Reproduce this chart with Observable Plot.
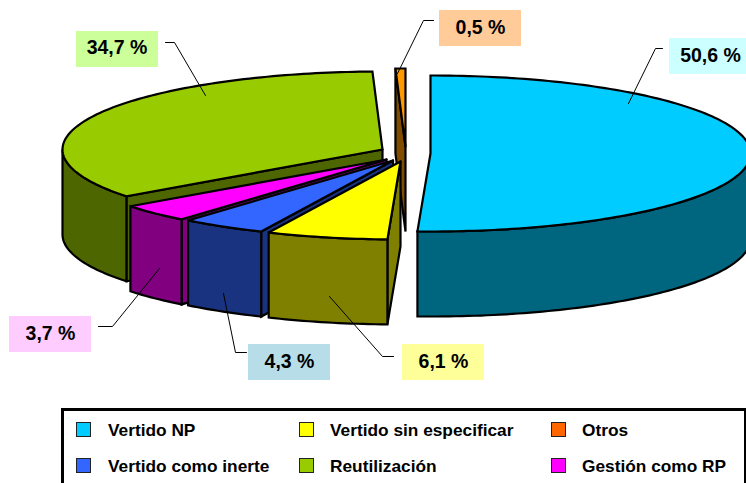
<!DOCTYPE html>
<html>
<head>
<meta charset="utf-8">
<script src="https://cdn.jsdelivr.net/npm/d3@7"></script>
<script src="https://cdn.jsdelivr.net/npm/@observablehq/plot@0.6"></script>
<style>
html,body{margin:0;padding:0;background:#fff;width:746px;height:483px;overflow:hidden;font-family:"Liberation Sans",Arial,sans-serif;}
#chart svg{display:block;}
#legend{position:absolute;left:61px;top:408px;width:680px;height:90px;border:3px solid #000;background:#fff;}
#legend .sw{position:absolute;width:13px;height:13px;border:1.5px solid #222;}
#legend .tx{position:absolute;font-weight:bold;font-size:17.3px;line-height:20px;color:#000;white-space:nowrap;}
</style>
</head>
<body>
<div id="chart"></div>
<div id="legend"></div>
<script>
// Data, clockwise from 12 o'clock
const categories = ["Vertido NP","Vertido sin especificar","Vertido como inerte","Gestión como RP","Reutilización","Otros"];
const values = [50.6,6.1,4.3,3.7,34.7,0.5];
const valueLabels = ["50,6 %","6,1 %","4,3 %","3,7 %","34,7 %","0,5 %"];

// Styles
const topColors = ["#00CCFF","#FFFF00","#3366FF","#FF00FF","#99CC00","#FF9900"];
const wallColors = ["#006680","#808000","#1A3380","#800080","#4D6600","#804D00"];
const swatchColors = ["#00CCFF","#FFFF00","#3366FF","#FF00FF","#99CC00","#FF6600"];
const labelFills = ["#CCFFFF","#FFFF99","#B7DEE8","#FFCCFF","#CCFF99","#FFCC99"];

// Layout of the 3-D drawing
const W = 746, H = 400, RX = 320, RY = 78, DEPTH = 85;
const apexX = [430,400,392.5,386,382,405];
const apexY = [153,161,160,159,149,146];
const paintOrder = [5,4,3,2,1,0];
const boxX = [[669,760],[402,484],[248,330],[9,91],[76,158],[439,521]];
const boxY = [[38,74],[344,380],[344,380],[316,352],[31,67],[10,46]];
const leaderX = [[628,655,662],[329,382,393],[223,235,246],[159,112,98],[205,174,165],[397,423,433]];
const leaderY = [[103,48,48],[296,356,356],[293,352,352],[268,326,326],[95,42,42],[73,20,20]];
const textX = [710,443,289,50,116.5,480];
const textY = [55,361,361,333,47.5,27];

// Slice angles from the values
const total = d3.sum(values);
let acc = 0;
const slices = values.map((v,i)=>{
  const a0 = acc/total*2*Math.PI; acc += v;
  return {i, a0, a1: acc/total*2*Math.PI};
});
const rim = (s,t)=>[apexX[s.i]+RX*Math.sin(t), apexY[s.i]-RY*Math.cos(t)];
const arc = (a,b)=>{
  const n = Math.max(1,Math.ceil((b-a)/0.02)), out=[];
  for(let k=0;k<=n;k++) out.push(a+(b-a)*k/n);
  return out;
};

const shapes = [];
let sid = 0;
function addShape(pts,color){
  const id = sid++;
  [...pts,pts[0]].forEach(p=>shapes.push({id,x:p[0],y:p[1],color}));
}
for(const idx of paintOrder){
  const s = slices[idx], A=[apexX[idx],apexY[idx]];
  // cut faces, drawn only when they face the viewer
  for(const [t,sign] of [[s.a0,-1],[s.a1,1]]){
    if(sign*Math.sin(t) > 1e-6){
      const R = rim(s,t);
      addShape([A,R,[R[0],R[1]+DEPTH],[A[0],A[1]+DEPTH]],wallColors[idx]);
    }
  }
  // outer wall, front half only
  const w0 = Math.max(s.a0,Math.PI/2), w1 = Math.min(s.a1,1.5*Math.PI);
  if(w1>w0){
    const ring = arc(w0,w1).map(t=>rim(s,t));
    addShape([...ring,...ring.slice().reverse().map(p=>[p[0],p[1]+DEPTH])],wallColors[idx]);
  }
  // top face
  addShape([A,...arc(s.a0,s.a1).map(t=>rim(s,t))],topColors[idx]);
}

const idxs = d3.range(values.length);
const leaders = idxs.flatMap(i=>leaderX[i].map((x,k)=>({i,x,y:leaderY[i][k]})));

const plot = Plot.plot({
  width:W,height:H,margin:0,
  x:{domain:[0,W],range:[0,W],axis:null},
  y:{domain:[0,H],range:[0,H],axis:null},
  color:{type:"identity"},
  style:{background:"#fff",overflow:"hidden"},
  marks:[
    Plot.line(shapes,{x:"x",y:"y",z:"id",fill:"color",stroke:"#000",strokeWidth:2.2,strokeLinejoin:"miter",strokeMiterlimit:3,curve:"linear"}),
    Plot.rect(idxs,{x1:i=>boxX[i][0],x2:i=>boxX[i][1],y1:i=>boxY[i][0],y2:i=>boxY[i][1],fill:i=>labelFills[i]}),
    Plot.line(leaders,{x:"x",y:"y",z:"i",stroke:"#000",strokeWidth:1,curve:"linear"}),
    Plot.text(idxs,{x:i=>textX[i],y:i=>textY[i],text:i=>valueLabels[i],fill:"#000",fontFamily:"Liberation Sans",fontWeight:"bold",fontSize:19.5,textAnchor:"middle",lineAnchor:"middle"})
  ]
});
document.getElementById("chart").append(plot);

// Legend, below the chart
const legendOrder = [0,1,5,2,4,3];
const colLeft = [12,235,487], colText = [44,266,518], rowTop = [11,47];
const legend = d3.select("#legend");
legendOrder.forEach((c,k)=>{
  const col=k%3,row=Math.floor(k/3);
  legend.append("div").attr("class","sw").style("left",colLeft[col]+"px").style("top",rowTop[row]+"px").style("background",swatchColors[c]);
  legend.append("div").attr("class","tx").style("left",colText[col]+"px").style("top",(rowTop[row]-2)+"px").text(categories[c]);
});
</script>
</body>
</html>
